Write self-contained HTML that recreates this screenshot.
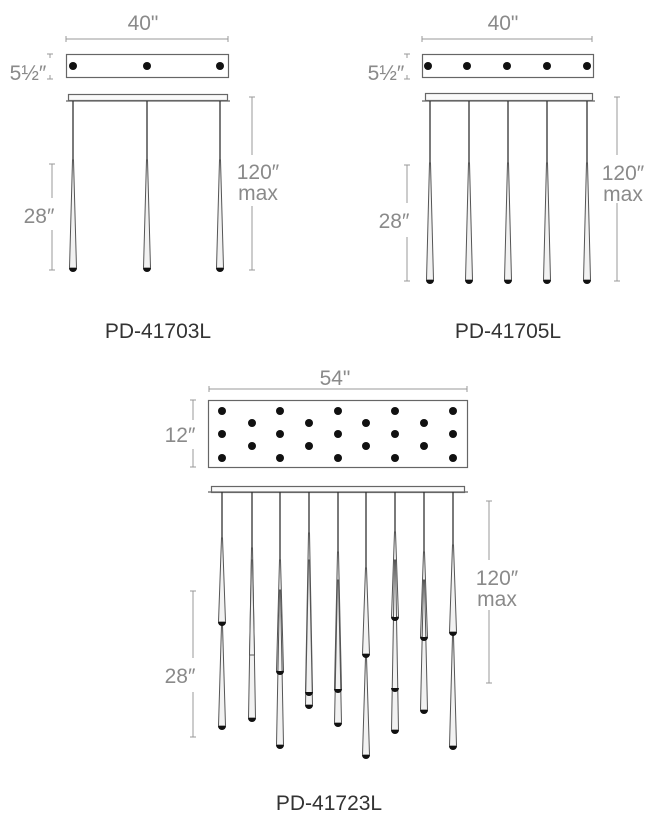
<!DOCTYPE html>
<html><head><style>
html,body{margin:0;padding:0;background:#fff;}
svg text{font-family:"Liberation Sans",sans-serif;fill:#8a8a8a;}
</style></head><body>
<svg width="662" height="828" viewBox="0 0 662 828" xmlns="http://www.w3.org/2000/svg">
<g stroke="#999" stroke-width="1" fill="none">
<line x1="66" y1="39" x2="228" y2="39"/><line x1="66" y1="36" x2="66" y2="42"/><line x1="228" y1="36" x2="228" y2="42"/>
<line x1="50" y1="54" x2="50" y2="58"/><line x1="50" y1="75" x2="50" y2="79"/><line x1="47" y1="54" x2="53" y2="54"/><line x1="47" y1="79" x2="53" y2="79"/>
<line x1="52" y1="164" x2="52" y2="198"/><line x1="52" y1="230" x2="52" y2="270"/><line x1="49" y1="164" x2="55" y2="164"/><line x1="49" y1="270" x2="55" y2="270"/>
<line x1="252" y1="97" x2="252" y2="155"/><line x1="252" y1="206" x2="252" y2="270"/><line x1="249" y1="97" x2="255" y2="97"/><line x1="249" y1="270" x2="255" y2="270"/>
<line x1="422" y1="39" x2="592" y2="39"/><line x1="422" y1="36" x2="422" y2="42"/><line x1="592" y1="36" x2="592" y2="42"/>
<line x1="407" y1="54" x2="407" y2="58"/><line x1="407" y1="75" x2="407" y2="79"/><line x1="404" y1="54" x2="410" y2="54"/><line x1="404" y1="79" x2="410" y2="79"/>
<line x1="407" y1="165" x2="407" y2="203"/><line x1="407" y1="237" x2="407" y2="281"/><line x1="404" y1="165" x2="410" y2="165"/><line x1="404" y1="281" x2="410" y2="281"/>
<line x1="617" y1="97" x2="617" y2="155"/><line x1="617" y1="203" x2="617" y2="281"/><line x1="614" y1="97" x2="620" y2="97"/><line x1="614" y1="281" x2="620" y2="281"/>
<line x1="209" y1="389" x2="467" y2="389"/><line x1="209" y1="386" x2="209" y2="392"/><line x1="467" y1="386" x2="467" y2="392"/>
<line x1="193" y1="400" x2="193" y2="420"/><line x1="193" y1="449" x2="193" y2="467"/><line x1="190" y1="400" x2="196" y2="400"/><line x1="190" y1="467" x2="196" y2="467"/>
<line x1="193" y1="591" x2="193" y2="658"/><line x1="193" y1="692" x2="193" y2="737"/><line x1="190" y1="591" x2="196" y2="591"/><line x1="190" y1="737" x2="196" y2="737"/>
<line x1="489" y1="501" x2="489" y2="560"/><line x1="489" y1="610" x2="489" y2="683"/><line x1="486" y1="501" x2="492" y2="501"/><line x1="486" y1="683" x2="492" y2="683"/>
</g>
<g stroke="#666" stroke-width="1.2" fill="#fff">
<rect x="66.5" y="54.5" width="162" height="23"/>
<rect x="422.5" y="54.5" width="171" height="23"/>
<rect x="208.5" y="400.5" width="259" height="67"/>
<rect x="68.5" y="94.5" width="159" height="6" fill="#fafafa"/>
<line x1="66" y1="101" x2="230" y2="101"/>
<rect x="425.5" y="93.5" width="167" height="7" fill="#fafafa"/>
<line x1="422" y1="101" x2="595" y2="101"/>
<rect x="211.5" y="486.5" width="253" height="6" fill="#fafafa"/>
<line x1="208" y1="492" x2="468" y2="492"/>
</g>
<g fill="#111">
<circle cx="73" cy="66" r="4"/><circle cx="147" cy="66" r="4"/><circle cx="220" cy="66" r="4"/>
<circle cx="428" cy="66" r="4"/><circle cx="467" cy="66" r="4"/><circle cx="507" cy="66" r="4"/><circle cx="547" cy="66" r="4"/><circle cx="587" cy="66" r="4"/>
<circle cx="222" cy="411" r="4"/><circle cx="222" cy="434" r="4"/><circle cx="222" cy="458" r="4"/>
<circle cx="280" cy="411" r="4"/><circle cx="280" cy="434" r="4"/><circle cx="280" cy="458" r="4"/>
<circle cx="338" cy="411" r="4"/><circle cx="338" cy="434" r="4"/><circle cx="338" cy="458" r="4"/>
<circle cx="395" cy="411" r="4"/><circle cx="395" cy="434" r="4"/><circle cx="395" cy="458" r="4"/>
<circle cx="453" cy="411" r="4"/><circle cx="453" cy="434" r="4"/><circle cx="453" cy="458" r="4"/>
<circle cx="252" cy="423" r="4"/><circle cx="252" cy="446" r="4"/>
<circle cx="309" cy="423" r="4"/><circle cx="309" cy="446" r="4"/>
<circle cx="366" cy="423" r="4"/><circle cx="366" cy="446" r="4"/>
<circle cx="424" cy="423" r="4"/><circle cx="424" cy="446" r="4"/>
</g>
<g stroke="#333" stroke-width="1.3">
<line x1="73" y1="101" x2="73" y2="160"/><line x1="147" y1="101" x2="147" y2="160"/><line x1="220" y1="101" x2="220" y2="160"/>
<line x1="430" y1="101" x2="430" y2="163"/><line x1="469" y1="101" x2="469" y2="163"/><line x1="508" y1="101" x2="508" y2="163"/><line x1="547" y1="101" x2="547" y2="163"/><line x1="587" y1="101" x2="587" y2="163"/>
<line x1="222" y1="492" x2="222" y2="538"/><line x1="252" y1="492" x2="252" y2="548"/><line x1="280" y1="492" x2="280" y2="560"/>
<line x1="309" y1="492" x2="309" y2="533"/><line x1="338" y1="492" x2="338" y2="552"/><line x1="366" y1="492" x2="366" y2="568"/>
<line x1="395" y1="492" x2="395" y2="532"/><line x1="424" y1="492" x2="424" y2="552"/><line x1="453" y1="492" x2="453" y2="545"/>
</g>
<g stroke="#555" stroke-width="1" fill="#f2f2f2">
<polygon points="72.5,160 73.5,160 76.5,268 69.5,268"/>
<polygon points="146.5,160 147.5,160 150.5,268 143.5,268"/>
<polygon points="219.5,160 220.5,160 223.5,268 216.5,268"/>
<polygon points="429.5,163 430.5,163 433.5,280 426.5,280"/>
<polygon points="468.5,163 469.5,163 472.5,280 465.5,280"/>
<polygon points="507.5,163 508.5,163 511.5,280 504.5,280"/>
<polygon points="546.5,163 547.5,163 550.5,280 543.5,280"/>
<polygon points="586.5,163 587.5,163 590.5,280 583.5,280"/>
<polygon points="221.5,538 222.5,538 225.5,622 218.5,622"/><polygon points="221.5,625 222.5,625 225.5,726 218.5,726"/>
<polygon points="251.5,548 252.5,548 255.5,718 248.5,718"/><polygon points="251.5,560 252.5,560 254.5,655 249.5,655"/>
<polygon points="279.5,560 280.5,560 283.5,671 276.5,671"/><polygon points="279.5,590 280.5,590 283.5,745 276.5,745"/>
<polygon points="308.5,533 309.5,533 312.5,692 305.5,692"/><polygon points="308.5,560 309.5,560 312.5,705 305.5,705"/>
<polygon points="337.5,552 338.5,552 341.5,689 334.5,689"/><polygon points="337.5,580 338.5,580 341.5,723 334.5,723"/>
<polygon points="365.5,568 366.5,568 369.5,654 362.5,654"/><polygon points="365.5,657 366.5,657 369.5,755 362.5,755"/>
<polygon points="394.5,532 395.5,532 398.5,617 391.5,617"/><polygon points="394.5,560 395.5,560 398.5,730 391.5,730"/>
<polygon points="423.5,552 424.5,552 427.5,637 420.5,637"/><polygon points="423.5,580 424.5,580 427.5,710 420.5,710"/>
<polygon points="452.5,545 453.5,545 456.5,632 449.5,632"/><polygon points="452.5,636 453.5,636 456.5,746 449.5,746"/>
</g>
<g fill="#111">
<path d="M69,268 h8 a4,4 0 0 1 -8,0z"/><path d="M143,268 h8 a4,4 0 0 1 -8,0z"/><path d="M216,268 h8 a4,4 0 0 1 -8,0z"/>
<path d="M426,280 h8 a4,4 0 0 1 -8,0z"/><path d="M465,280 h8 a4,4 0 0 1 -8,0z"/><path d="M504,280 h8 a4,4 0 0 1 -8,0z"/><path d="M543,280 h8 a4,4 0 0 1 -8,0z"/><path d="M583,280 h8 a4,4 0 0 1 -8,0z"/>
<path d="M218,622 h8 a4,4 0 0 1 -8,0z"/><path d="M218,726 h8 a4,4 0 0 1 -8,0z"/>
<path d="M248,718 h8 a4,4 0 0 1 -8,0z"/>
<path d="M276,671 h8 a4,4 0 0 1 -8,0z"/><path d="M276,745 h8 a4,4 0 0 1 -8,0z"/>
<path d="M305,692 h8 a4,4 0 0 1 -8,0z"/><path d="M305,705 h8 a4,4 0 0 1 -8,0z"/>
<path d="M334,689 h8 a4,4 0 0 1 -8,0z"/><path d="M334,723 h8 a4,4 0 0 1 -8,0z"/>
<path d="M362,654 h8 a4,4 0 0 1 -8,0z"/><path d="M362,755 h8 a4,4 0 0 1 -8,0z"/>
<path d="M391,617 h8 a4,4 0 0 1 -8,0z"/><path d="M391,688 h8 a4,4 0 0 1 -8,0z"/><path d="M391,730 h8 a4,4 0 0 1 -8,0z"/>
<path d="M420,637 h8 a4,4 0 0 1 -8,0z"/><path d="M420,710 h8 a4,4 0 0 1 -8,0z"/>
<path d="M449,632 h8 a4,4 0 0 1 -8,0z"/><path d="M449,746 h8 a4,4 0 0 1 -8,0z"/>
</g>
<g font-size="21" text-anchor="middle">
<text x="143" y="30">40"</text>
<text x="503" y="30">40"</text>
<text x="28" y="80">5½″</text>
<text x="386" y="80">5½″</text>
<text x="39" y="223">28″</text>
<text x="394" y="228">28″</text>
<text x="258" y="179">120″</text>
<text x="258" y="200">max</text>
<text x="623" y="180">120″</text>
<text x="623" y="201">max</text>
<text x="335" y="385">54"</text>
<text x="180" y="442">12″</text>
<text x="180" y="683">28″</text>
<text x="497" y="585">120″</text>
<text x="497" y="606">max</text>
</g>
<g font-size="21" text-anchor="middle">
<text x="158" y="338" style="fill:#333">PD-41703L</text>
<text x="508" y="338" style="fill:#333">PD-41705L</text>
<text x="329" y="810" style="fill:#333">PD-41723L</text>
</g>
</svg>
</body></html>
